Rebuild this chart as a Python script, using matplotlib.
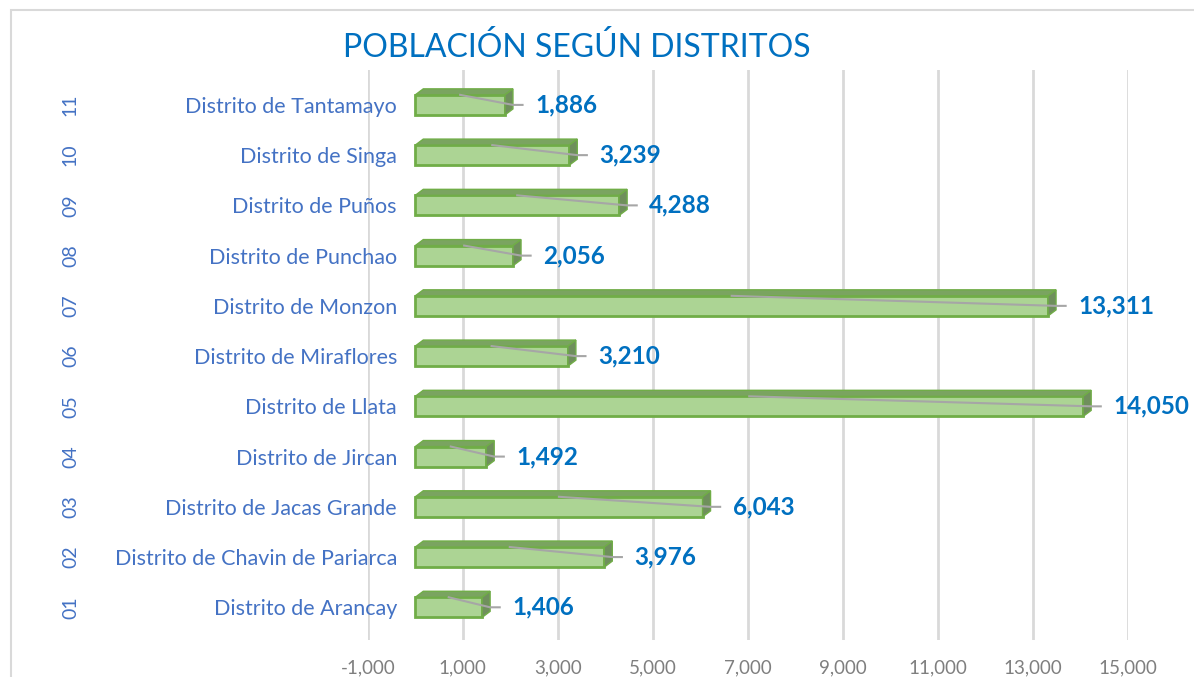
import numpy as np
import matplotlib.pyplot as plt
from matplotlib.patches import Polygon, Rectangle
from matplotlib.transforms import blended_transform_factory

# Data (bottom to top, as in the chart)
codes = ['01', '02', '03', '04', '05', '06', '07', '08', '09', '10', '11']
districts = ['Distrito de Arancay', 'Distrito de Chavin de Pariarca',
             'Distrito de Jacas Grande', 'Distrito de Jircan', 'Distrito de Llata',
             'Distrito de Miraflores', 'Distrito de Monzon', 'Distrito de Punchao',
             'Distrito de Puños', 'Distrito de Singa', 'Distrito de Tantamayo']
population = [1406, 3976, 6043, 1492, 14050, 3210, 13311, 2056, 4288, 3239, 1886]

plt.rcParams['font.family'] = ['Lato', 'DejaVu Sans']

fig = plt.figure(figsize=(11.94, 6.77), dpi=100)
ax = fig.add_axes([0.308, 0.0547, 0.637, 0.8423])

# chart border
fig.patches.append(Rectangle((0.009, -0.01), 1.2, 0.995, transform=fig.transFigure,
                             fill=False, edgecolor='#d9d9d9', linewidth=1.5))

y = np.arange(len(population))
bar_h = 0.4

ax.set_xlim(-1000, 15000)
ax.set_ylim(-0.65, 10.7)
ax.set_xticks(np.arange(-1000, 15001, 2000))
ax.xaxis.set_major_formatter(plt.FuncFormatter(lambda v, p: f'{int(v):,}'))
ax.tick_params(axis='x', colors='#7f7f7f', labelsize=13.5, length=0, pad=14)
ax.tick_params(axis='y', length=0, pad=-21)
ax.set_yticks(y)
ax.set_yticklabels(districts, color='#4472c4', fontsize=15.5)
ax.grid(axis='x', color='#d9d9d9', linewidth=2)
ax.set_axisbelow(True)
for s in ax.spines.values():
    s.set_visible(False)

# pixel -> data conversion for the 3D depth
p0 = ax.transData.transform((0, 0))
p1 = ax.transData.transform((1000, 1))
dx = 8 / ((p1[0] - p0[0]) / 1000)
dy = 6 / (p1[1] - p0[1])

ax.barh(y, population, height=bar_h, color='#acd494', edgecolor='#70ad47',
        linewidth=2, zorder=3)
for yi, v in zip(y, population):
    top = yi + bar_h / 2
    ax.add_patch(Polygon([(0, top), (v, top), (v + dx, top + dy), (dx, top + dy)],
                         closed=True, facecolor='#7aa460', edgecolor='#70ad47',
                         linewidth=1, zorder=3))
    ax.add_patch(Polygon([(v, top), (v + dx, top + dy), (v + dx, top + dy - bar_h),
                          (v, top - bar_h)],
                         closed=True, facecolor='#6f8f5c', edgecolor='#70ad47',
                         linewidth=1, zorder=3))
    # leader line
    ax.plot([v / 2, v + dx, v + 2.2 * dx], [top, yi, yi], color='#a6a6a6',
            linewidth=1.5, zorder=4)
    ax.annotate(f'{v:,}', xy=(v, yi), xytext=(30, 0), textcoords='offset pixels',
                ha='left', va='center', fontsize=17.5, fontweight='bold',
                color='#0070c0', zorder=5)

# code column
code_tr = blended_transform_factory(fig.transFigure, ax.transData)
for yi, c in zip(y, codes):
    fig.text(0.059, yi, c, transform=code_tr, ha='center', va='center',
             rotation=90, color='#4472c4', fontsize=14)

fig.text(0.483, 0.93, 'POBLACIÓN SEGÚN DISTRITOS', ha='center', va='center',
         fontsize=23, color='#0070c0')

fig.savefig('out.png', dpi=100)
